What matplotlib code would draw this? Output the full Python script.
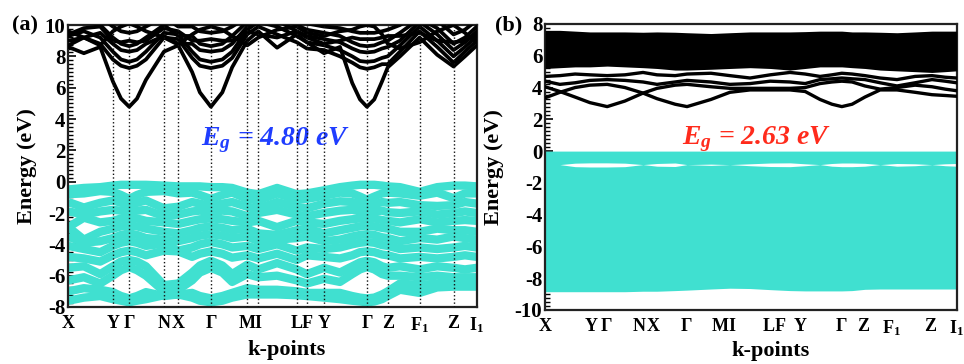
import matplotlib
matplotlib.use("Agg")
import matplotlib.pyplot as plt
from matplotlib.ticker import MultipleLocator

plt.rcParams['font.family'] = ['Liberation Serif', 'DejaVu Serif']
plt.rcParams['font.weight'] = 'bold'
plt.rcParams['axes.unicode_minus'] = False
plt.rcParams['mathtext.fontset'] = 'custom'
plt.rcParams['mathtext.rm'] = 'Liberation Serif:bold'
plt.rcParams['mathtext.bf'] = 'Liberation Serif:bold'
plt.rcParams['mathtext.it'] = 'Liberation Serif:italic:bold'

TURQ = '#40e0d0'

# high symmetry points (fraction of path length)
klabels = ['X', 'Y', 'Γ', 'N', 'X', 'Γ', 'M', 'I', 'L', 'F', 'Y', 'Γ', 'Z', r'F$_1$', 'Z', r'I$_1$']
kpath_a = [0.000, 0.109, 0.149, 0.234, 0.269, 0.349, 0.438, 0.465, 0.559, 0.584,
           0.626, 0.731, 0.782, 0.860, 0.943, 1.000]
kpath_b = [0.000, 0.112, 0.150, 0.229, 0.262, 0.344, 0.425, 0.454, 0.543, 0.571,
           0.620, 0.721, 0.772, 0.842, 0.935, 1.000]

# ---- panel (a): energies read at these k samples ----
kgrid_a = [0.000, 0.038, 0.078, 0.109, 0.129, 0.149, 0.168, 0.190, 0.234, 0.269,
           0.303, 0.322, 0.349, 0.377, 0.401, 0.438, 0.465, 0.511, 0.559, 0.584,
           0.626, 0.665, 0.695, 0.714, 0.731, 0.749, 0.768, 0.782, 0.812, 0.860,
           0.903, 0.943, 0.971, 1.000]

cb1_a = [8.6, 8.2, 8.6, 6.4, 5.3, 4.78, 5.3, 6.5, 8.3, 8.7,
         7.0, 5.7, 4.78, 5.7, 7.3, 9.0, 9.6, 8.55, 9.4, 8.9,
         8.2, 8.6, 6.3, 5.25, 4.78, 5.25, 6.4, 7.3, 8.0, 9.2,
         8.1, 7.35, 8.0, 8.7]
cb2_a = [9.0, 9.2, 8.8, 7.8, 7.4, 7.25, 7.4, 7.8, 9.2, 9.1,
         7.9, 7.4, 7.25, 7.4, 7.9, 9.4, 9.9, 9.4, 8.9, 8.5,
         8.4, 8.0, 7.6, 7.3, 7.2, 7.3, 7.5, 7.5, 8.3, 9.6,
         8.6, 7.6, 8.3, 9.0]
cb3_a = [9.3, 9.6, 9.2, 8.3, 7.8, 7.65, 7.8, 8.3, 9.5, 9.4,
         8.3, 7.8, 7.65, 7.8, 8.3, 9.7, 10.2, 9.9, 9.3, 8.9,
         8.7, 8.4, 8.0, 7.7, 7.65, 7.7, 7.9, 8.0, 8.7, 9.9,
         9.0, 8.0, 8.6, 9.3]
cb4_a = [9.6, 9.2, 9.5, 8.8, 8.4, 8.3, 8.4, 8.8, 9.3, 8.8,
         8.8, 8.4, 8.3, 8.4, 8.8, 9.9, 10.4, 10.3, 9.6, 9.3,
         9.1, 8.9, 8.5, 8.3, 8.25, 8.3, 8.5, 8.6, 9.0, 10.2,
         9.4, 8.4, 8.9, 9.6]
cb5_a = [10.2, 10.3, 10.0, 9.2, 8.8, 8.65, 8.8, 9.2, 10.0, 9.3,
         9.3, 8.8, 8.65, 8.8, 9.3, 10.2, 10.6, 10.5, 10.0, 9.7,
         9.5, 9.3, 8.9, 8.7, 8.65, 8.7, 8.9, 9.0, 9.5, 10.4,
         9.8, 8.8, 9.2, 9.9]
cb6_a = [10.5, 10.6, 10.5, 9.9, 9.6, 9.5, 9.6, 9.9, 10.5, 9.9,
         9.9, 9.6, 9.5, 9.6, 9.9, 10.5, 10.8, 10.8, 10.4, 10.1,
         9.9, 9.8, 9.6, 9.5, 9.5, 9.5, 9.6, 9.7, 10.0, 10.8,
         10.3, 9.4, 9.7, 10.3]
cb7_a = [8.7, 9.2, 8.7, 9.6, 9.9, 10.1, 9.9, 9.6, 9.2, 8.75,
         9.4, 9.7, 9.9, 9.7, 9.3, 8.7, 9.2, 9.7, 9.9, 9.5,
         9.3, 9.6, 9.7, 9.9, 10.0, 9.9, 9.4, 8.8, 8.5, 8.9,
         9.6, 10.0, 9.5, 8.9]
cb8_a = [9.4, 9.8, 9.9, 9.0, 8.9, 9.0, 8.9, 9.0, 9.8, 9.6,
         9.0, 9.0, 9.1, 9.0, 9.0, 9.6, 9.4, 9.2, 9.6, 9.2,
         8.8, 9.0, 9.2, 9.1, 9.1, 9.1, 9.2, 9.3, 9.3, 9.5,
         9.0, 8.9, 9.0, 9.4]

vb1_a = [-0.5, -0.4, -0.35, -0.25, -0.2, -0.2, -0.2, -0.2, -0.25, -0.3,
         -0.3, -0.3, -0.35, -0.35, -0.4, -0.7, -0.8, -0.4, -0.8, -0.75,
         -0.55, -0.35, -0.25, -0.2, -0.2, -0.2, -0.25, -0.3, -0.35, -0.65,
         -0.35, -0.25, -0.25, -0.3]
vb2_a = [-0.8, -0.75, -0.6, -0.65, -0.85, -1.1, -0.85, -0.65, -0.6, -0.75,
         -0.7, -0.85, -1.1, -0.85, -0.7, -1.1, -1.2, -0.75, -1.15, -1.1,
         -0.9, -0.7, -0.75, -0.95, -1.15, -0.95, -0.75, -0.7, -0.75, -0.9,
         -0.7, -1.05, -0.75, -0.75]
vb3_a = [-1.3, -1.65, -1.35, -1.2, -1.35, -1.5, -1.35, -1.2, -1.7, -1.6,
         -1.3, -1.4, -1.55, -1.4, -1.3, -1.6, -1.7, -1.3, -1.6, -1.7,
         -1.4, -1.25, -1.3, -1.45, -1.55, -1.45, -1.3, -1.35, -1.3, -1.5,
         -1.55, -1.5, -1.3, -1.4]
vb4_a = [-1.9, -2.1, -1.9, -1.8, -1.85, -1.95, -1.85, -1.8, -2.2, -2.1,
         -1.9, -1.85, -1.95, -1.85, -1.9, -2.2, -2.0, -1.8, -2.1, -2.2,
         -2.0, -1.85, -1.8, -1.9, -2.0, -1.9, -1.85, -1.95, -2.0, -1.9,
         -2.1, -2.0, -1.9, -2.0]
vb5_a = [-2.9, -2.3, -2.6, -2.5, -2.35, -2.3, -2.35, -2.5, -2.6, -2.7,
         -2.5, -2.4, -2.35, -2.4, -2.5, -2.6, -2.5, -2.9, -2.5, -2.6,
         -2.7, -2.5, -2.4, -2.35, -2.3, -2.35, -2.45, -2.5, -2.6, -2.4,
         -2.6, -2.5, -2.45, -2.5]
vb6_a = [-2.9, -3.7, -3.2, -3.0, -2.85, -2.8, -2.85, -3.0, -3.2, -3.3,
         -3.1, -2.95, -2.85, -2.95, -3.1, -3.0, -3.3, -3.4, -3.1, -3.0,
         -3.3, -3.1, -2.95, -2.85, -2.8, -2.85, -2.95, -3.0, -3.2, -3.2,
         -3.0, -3.1, -3.1, -3.2]
vb7_a = [-3.5, -3.9, -3.8, -3.6, -3.4, -3.3, -3.4, -3.6, -3.7, -3.8,
         -3.6, -3.45, -3.35, -3.45, -3.6, -3.5, -3.8, -3.7, -3.6, -3.5,
         -3.8, -3.7, -3.5, -3.4, -3.35, -3.4, -3.55, -3.6, -3.8, -3.6,
         -3.7, -3.5, -3.6, -3.7]
vb8_a = [-4.1, -4.3, -4.5, -4.1, -3.9, -3.8, -3.9, -4.1, -3.95, -4.4,
         -4.2, -4.0, -3.85, -4.0, -4.2, -4.1, -4.3, -4.0, -4.4, -4.2,
         -4.3, -4.2, -4.0, -3.9, -3.85, -3.9, -4.05, -4.1, -4.3, -4.2,
         -4.3, -4.2, -4.1, -4.2]
vb9_a = [-4.8, -4.9, -5.1, -4.7, -4.5, -4.4, -4.5, -4.7, -4.4, -4.45,
         -4.8, -4.6, -4.45, -4.6, -4.85, -4.7, -4.9, -4.6, -5.0, -4.7,
         -4.8, -4.9, -4.7, -4.5, -4.45, -4.5, -4.65, -4.7, -4.9, -4.8,
         -4.9, -4.8, -4.7, -4.8]
vb10_a = [-5.5, -5.4, -5.9, -5.4, -5.1, -5.0, -5.1, -5.4, -6.6, -6.5,
          -5.8, -5.35, -5.05, -5.35, -5.9, -5.3, -5.6, -5.2, -5.6, -5.9,
          -5.5, -5.8, -5.4, -5.15, -5.05, -5.15, -5.4, -5.5, -5.4, -5.6,
          -5.4, -5.5, -5.6, -5.5]
vb11_a = [-6.3, -6.1, -6.5, -6.0, -5.65, -5.45, -5.65, -6.0, -7.0, -6.9,
          -6.3, -5.8, -5.5, -5.8, -6.4, -5.9, -6.1, -6.0, -6.3, -6.5,
          -6.2, -6.4, -5.9, -5.6, -5.45, -5.6, -5.9, -6.0, -6.0, -6.1,
          -6.0, -6.1, -6.1, -6.1]
vb12_a = [-7.0, -6.8, -6.9, -7.05, -7.3, -7.45, -7.3, -7.05, -7.3, -7.2,
          -7.1, -7.3, -7.45, -7.3, -7.1, -6.8, -6.9, -6.9, -7.0, -7.1,
          -7.1, -7.1, -7.3, -7.4, -7.45, -7.4, -7.2, -7.0, -6.5, -6.6,
          -6.5, -6.4, -6.5, -6.5]
vb13_a = [-7.6, -7.4, -7.3, -7.5, -7.6, -7.7, -7.6, -7.5, -7.25, -7.2,
          -7.4, -7.6, -7.7, -7.6, -7.4, -7.2, -7.2, -7.2, -7.25, -7.3,
          -7.4, -7.5, -7.6, -7.65, -7.7, -7.65, -7.5, -7.3, -6.9, -7.1,
          -6.75, -6.7, -6.7, -6.7]

# ---- panel (b) ----
kgrid_b = [0.000, 0.036, 0.073, 0.109, 0.151, 0.194, 0.238, 0.272, 0.316, 0.345,
           0.403, 0.449, 0.498, 0.547, 0.595, 0.632, 0.668, 0.697, 0.721, 0.746,
           0.777, 0.814, 0.855, 0.899, 0.940, 0.972, 1.000]

cbA_b = [3.35, 3.7, 4.0, 4.15, 4.2, 4.0, 3.65, 3.3, 2.95, 2.8,
         3.25, 3.7, 3.85, 3.85, 3.85, 3.75, 3.25, 2.95, 2.8, 2.95,
         3.4, 3.85, 3.85, 3.7, 3.55, 3.5, 3.45]
cbB_b = [4.05, 3.75, 3.4, 3.05, 2.8, 3.15, 3.65, 3.95, 4.15, 4.2,
         4.05, 3.95, 3.95, 3.95, 3.95, 4.0, 4.25, 4.35, 4.4, 4.35,
         4.1, 3.9, 4.0, 4.15, 4.05, 3.9, 3.8]
cbC_b = [4.4, 4.2, 4.3, 4.45, 4.5, 4.45, 4.35, 4.2, 4.35, 4.45,
         4.35, 4.2, 4.25, 4.4, 4.35, 4.25, 4.5, 4.55, 4.6, 4.55,
         4.5, 4.3, 4.1, 4.3, 4.5, 4.4, 4.3]
cbD_b = [4.7, 4.75, 4.85, 4.8, 4.75, 4.8, 4.95, 4.8, 4.75, 4.85,
         4.9, 4.75, 4.6, 4.8, 4.95, 4.85, 4.7, 4.8, 4.9, 4.85,
         4.75, 4.6, 4.5, 4.7, 4.75, 4.65, 4.6]
cb_block_top = [7.6, 7.6, 7.55, 7.5, 7.5, 7.5, 7.48, 7.5, 7.48, 7.45,
                7.4, 7.45, 7.5, 7.5, 7.5, 7.52, 7.55, 7.55, 7.55, 7.5,
                7.5, 7.48, 7.45, 7.5, 7.55, 7.55, 7.55]
cb_block_bot = [5.2, 5.25, 5.3, 5.3, 5.35, 5.3, 5.25, 5.2, 5.1, 5.1,
                5.15, 5.2, 5.25, 5.2, 5.1, 5.2, 5.3, 5.3, 5.3, 5.25,
                5.2, 5.1, 5.05, 5.0, 4.95, 5.0, 5.05]
vb_top_b = [0.0, 0.0, 0.0, 0.0, 0.0, 0.0, 0.0, 0.0, 0.0, 0.0,
            0.0, 0.0, 0.0, 0.0, 0.0, 0.0, 0.0, 0.0, 0.0, 0.0,
            0.0, 0.0, 0.0, 0.0, 0.0, 0.0, 0.0]
vb_gap_hi_b = [-0.85, -0.85, -0.76, -0.74, -0.74, -0.76, -0.85, -0.78, -0.75, -0.85,
               -0.82, -0.85, -0.8, -0.75, -0.74, -0.8, -0.85, -0.78, -0.75, -0.75,
               -0.77, -0.85, -0.78, -0.8, -0.85, -0.8, -0.78]
vb_gap_lo_b = [-0.85, -0.85, -0.98, -1.0, -1.0, -0.98, -0.85, -0.95, -0.97, -0.85,
               -0.9, -0.85, -0.92, -0.97, -0.98, -0.92, -0.85, -0.95, -0.98, -0.98,
               -0.95, -0.85, -0.95, -0.92, -0.85, -0.92, -0.95]
vb_bot_b = [-8.85, -8.85, -8.85, -8.85, -8.85, -8.85, -8.82, -8.82, -8.78, -8.75,
            -8.68, -8.63, -8.65, -8.72, -8.78, -8.8, -8.8, -8.8, -8.8, -8.78,
            -8.7, -8.68, -8.68, -8.68, -8.68, -8.68, -8.68]


def style_axes(ax, kpath, ylim, labelx, xlab_x, xlab_y):
    ax.set_xlim(0, 1)
    ax.set_ylim(*ylim)
    ax.set_xticks(kpath)
    ax.set_xticklabels(klabels, fontsize=13, fontweight='bold')
    ax.tick_params(axis='x', length=0, pad=6)
    ax.yaxis.set_major_locator(MultipleLocator(2))
    ax.yaxis.set_minor_locator(MultipleLocator(0.25))
    ax.tick_params(axis='y', which='major', direction='in', length=6, width=1.2,
                   labelsize=15, pad=2, right=False)
    ax.tick_params(axis='y', which='minor', direction='in', length=3.5, width=1.0, right=False)
    for lab in ax.get_yticklabels():
        lab.set_fontweight('bold')
    for s in ax.spines.values():
        s.set_linewidth(1.6)
        s.set_color('#222222')
    ax.set_ylabel('Energy (eV)', fontsize=16, fontweight='bold')
    ax.yaxis.set_label_coords(labelx, 0.5)
    ax.set_xlabel('k-points', fontsize=16, fontweight='bold')
    ax.xaxis.set_label_coords(xlab_x, xlab_y)
    ax.xaxis.label.set_va('top')


fig = plt.figure(figsize=(9.64, 3.64), dpi=100)

# (a)
ax1 = fig.add_axes([0.0709, 0.1566, 0.4237, 0.7747])
for vb in [vb1_a, vb2_a, vb3_a, vb4_a, vb5_a, vb6_a, vb7_a, vb8_a, vb9_a,
           vb10_a, vb11_a, vb12_a, vb13_a]:
    ax1.plot(kgrid_a, vb, color=TURQ, lw=6.0, solid_joinstyle='round',
             solid_capstyle='butt', zorder=2)
for cb in [cb8_a, cb7_a, cb6_a, cb5_a, cb4_a, cb3_a, cb2_a, cb1_a]:
    ax1.plot(kgrid_a, cb, color='black', lw=2.7, zorder=3)
for k in kpath_a[1:-1]:
    ax1.axvline(k, color='#111111', ls=':', lw=1.0, zorder=5)
ax1.text(0.506, 2.34, r'$E_g$' + ' = 4.80 eV', color='#1f3dff', fontsize=20,
         fontweight='bold', fontstyle='italic', ha='center', va='baseline')
style_axes(ax1, kpath_a, (-8, 10), -0.077, 0.533, -0.118)
fig.text(0.012, 0.929, '(a)', fontsize=16, fontweight='bold', ha='left', va='center')

# (b)
ax2 = fig.add_axes([0.5654, 0.1484, 0.4270, 0.7857])
ax2.fill_between(kgrid_b, vb_bot_b, vb_top_b, color=TURQ, lw=0, zorder=2)
ax2.fill_between(kgrid_b, vb_gap_lo_b, vb_gap_hi_b, color='white', lw=0, zorder=2.5)
ax2.fill_between(kgrid_b, cb_block_bot, cb_block_top, color='black', lw=0, zorder=3)
for cb in [cbD_b, cbC_b, cbB_b, cbA_b]:
    ax2.plot(kgrid_b, cb, color='black', lw=2.4, zorder=3)
ax2.text(0.5125, 0.41, r'$E_g$' + ' = 2.63 eV', color='#ff2b1c', fontsize=20,
         fontweight='bold', fontstyle='italic', ha='center', va='baseline')
style_axes(ax2, kpath_b, (-10, 8), -0.1, 0.549, -0.108)
fig.text(0.5135, 0.931, '(b)', fontsize=16, fontweight='bold', ha='left', va='center')

fig.savefig('out.png', dpi=100)
